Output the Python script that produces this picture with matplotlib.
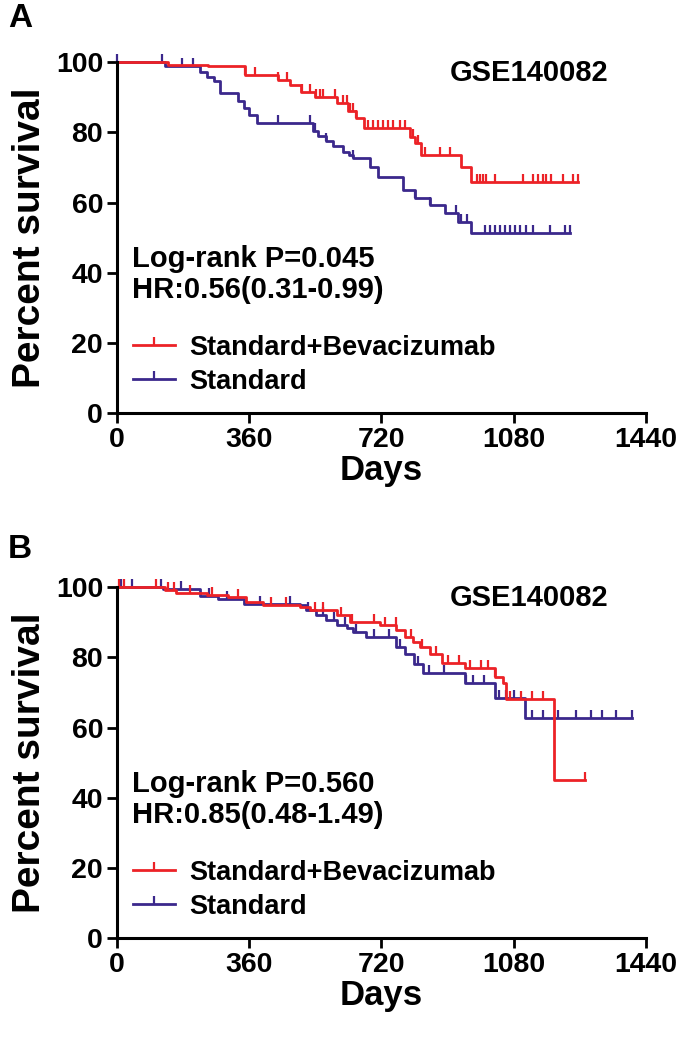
import matplotlib
matplotlib.use("Agg")
import matplotlib.pyplot as plt
from matplotlib.lines import Line2D

plt.rcParams["font.family"] = ["Liberation Sans", "DejaVu Sans"]
plt.rcParams["font.weight"] = "bold"

RED = "#ec2227"
PURPLE = "#3b288c"

# Panel A: Kaplan-Meier steps (day, percent survival) and censor days
A_RED_T = [0, 140, 249, 348, 439, 470, 500, 540, 598, 630, 650, 672, 798, 811, 829, 938, 965, 1256]
A_RED_S = [100, 99.3, 98.8, 96.4, 95.0, 93.5, 91.6, 90.0, 88.3, 86.0, 84.0, 81.2, 78.7, 76.9, 73.5, 70.2, 65.9, 65.9]
A_RED_CENS = [348, 376, 439, 462, 503, 525, 543, 552, 561, 593, 616, 625, 634, 643, 652,
              684, 697, 711, 725, 738, 752, 770, 784, 807, 820, 838, 879, 906,
              979, 988, 997, 1006, 1029, 1106, 1133, 1147, 1160, 1169, 1183, 1215, 1242, 1256]

A_PUR_T = [0, 130, 226, 245, 263, 281, 330, 345, 360, 380, 534, 548, 570, 588, 615, 633, 642,
           690, 710, 779, 811, 852, 893, 929, 965, 1233]
A_PUR_S = [100, 98.8, 97.3, 95.9, 94.5, 91.2, 89.0, 87.0, 85.0, 82.6, 80.5, 79.0, 77.5, 76.0, 74.5, 73.5, 72.6,
           70.0, 67.3, 63.5, 61.2, 59.3, 57.0, 54.5, 51.3, 51.3]
A_PUR_CENS = [1, 122, 176, 208, 439, 525, 539, 570, 642, 811, 852, 924, 938, 952,
              1002, 1015, 1029, 1043, 1056, 1070, 1083, 1097, 1115, 1133, 1179, 1220, 1233]

# Panel B
B_RED_T = [0, 130, 160, 245, 303, 352, 398, 498, 525, 598, 634, 716, 761, 784, 806, 825, 852, 884,
           947, 1029, 1052, 1060, 1190, 1275]
B_RED_S = [100, 99.3, 98.3, 97.7, 97.2, 95.8, 94.9, 94.4, 93.4, 92.0, 90.1, 89.2, 87.7, 85.8, 84.4, 83.0,
           81.1, 78.3, 76.9, 74.5, 72.6, 68.0, 45.0, 45.0]
B_RED_CENS = [5, 18, 105, 140, 155, 200, 260, 330, 420, 460, 540, 560, 610, 640, 700, 730, 760, 800,
              830, 870, 900, 930, 960, 990, 1010, 1030, 1070, 1100, 1130, 1160, 1275]

B_PUR_T = [0, 125, 225, 275, 345, 498, 516, 543, 570, 598, 625, 643, 679, 761, 784, 810, 834, 947,
           1029, 1110, 1402]
B_PUR_S = [100, 99.5, 97.6, 96.6, 95.3, 94.9, 93.4, 92.0, 90.6, 89.2, 88.3, 87.3, 85.8, 83.0, 81.1, 78.0,
           75.5, 72.6, 68.3, 62.6, 62.6]
B_PUR_CENS = [10, 40, 120, 175, 250, 300, 390, 470, 520, 560, 590, 620, 650, 700, 740, 770, 820, 850,
              890, 950, 970, 1000, 1040, 1060, 1080, 1130, 1160, 1200, 1250, 1290, 1320, 1360, 1402]

PANELS = [
    ("A", A_RED_T, A_RED_S, A_RED_CENS, A_PUR_T, A_PUR_S, A_PUR_CENS,
     "Log-rank P=0.045", "HR:0.56(0.31-0.99)"),
    ("B", B_RED_T, B_RED_S, B_RED_CENS, B_PUR_T, B_PUR_S, B_PUR_CENS,
     "Log-rank P=0.560", "HR:0.85(0.48-1.49)"),
]

X_TICKS = [0, 360, 720, 1080, 1440]
Y_TICKS = [0, 20, 40, 60, 80, 100]


def surv_at(ts, ss, t):
    s = ss[0]
    for ti, si in zip(ts, ss):
        if ti <= t:
            s = si
    return s


fig = plt.figure(figsize=(6.85, 10.38), dpi=100)
axes_rects = [[0.1708, 0.6021, 0.772, 0.338], [0.1708, 0.0963, 0.772, 0.338]]
letter_y = [0.982, 0.471]

for rect, ly, (letter, rt, rs, rc, pt, ps, pc, p_txt, hr_txt) in zip(axes_rects, letter_y, PANELS):
    ax = fig.add_axes(rect)
    for ts, ss, cens, col in [(pt, ps, pc, PURPLE), (rt, rs, rc, RED)]:
        ax.step(ts, ss, where="post", color=col, lw=2.0, clip_on=False)
        ax.plot(cens, [surv_at(ts, ss, c) for c in cens], ls="none", marker=2,
                ms=6, mew=1.6, color=col, clip_on=False)

    ax.set_xlim(0, 1440)
    ax.set_ylim(0, 100)
    ax.set_xticks(X_TICKS)
    ax.set_yticks(Y_TICKS)
    ax.tick_params(labelsize=20.5, width=2, length=7, pad=3)
    for lab in ax.get_xticklabels() + ax.get_yticklabels():
        lab.set_fontweight("bold")
    for side in ["top", "right"]:
        ax.spines[side].set_visible(False)
    for side in ["left", "bottom"]:
        ax.spines[side].set_linewidth(2.2)
    ax.set_xlabel("Days", fontsize=25, fontweight="bold", labelpad=1)
    ax.set_ylabel("Percent survival", fontsize=28, fontweight="bold", labelpad=6)

    ax.text(1121, 97, "GSE140082", fontsize=21, fontweight="bold", ha="center", va="center")
    ax.text(40, 44, p_txt, fontsize=21, fontweight="bold", ha="left", va="center")
    ax.text(40, 35, hr_txt, fontsize=21, fontweight="bold", ha="left", va="center")

    handles = [
        Line2D([], [], color=RED, lw=2.0, marker=2, ms=6, mew=1.6, label="Standard+Bevacizumab"),
        Line2D([], [], color=PURPLE, lw=2.0, marker=2, ms=6, mew=1.6, label="Standard"),
    ]
    leg = ax.legend(handles=handles, loc="center left", bbox_to_anchor=(0.03, 0.138),
                    frameon=False, fontsize=19.5, handlelength=1.55, handletextpad=0.55,
                    labelspacing=0.3, borderpad=0, borderaxespad=0)
    for t in leg.get_texts():
        t.set_fontweight("bold")

    fig.text(0.012, ly, letter, fontsize=24, fontweight="bold", ha="left", va="center")

fig.savefig("out.png", dpi=100)
